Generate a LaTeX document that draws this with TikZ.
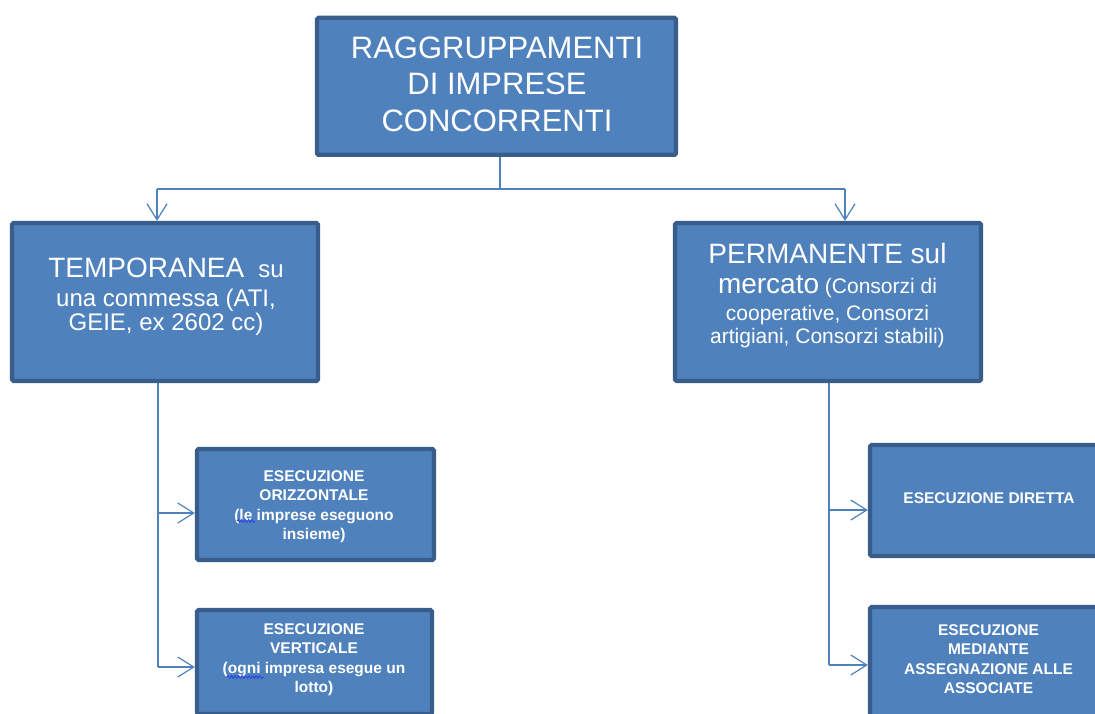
\documentclass[tikz,border=0pt]{standalone}
\usepackage{fontspec}
\setmainfont{Liberation Sans}
\usetikzlibrary{arrows.meta,decorations.pathmorphing}
\definecolor{boxfill}{HTML}{4F81BD}
\definecolor{boxline}{HTML}{385D8A}
\definecolor{connc}{HTML}{4F81BD}
\definecolor{spell}{HTML}{2E4BE0}
\begin{document}
\begin{tikzpicture}[x=1pt,y=-1pt,
  box/.style={draw=boxline, line width=4.2pt, fill=boxfill, rounded corners=1.5pt, inner sep=0pt},
  txt/.style={text=white, align=center, inner sep=0pt, anchor=north},
  small/.style={txt, font=\bfseries\fontsize{15.5}{19.5}\selectfont},
  conn/.style={draw=connc, line width=1.2pt},
  arr/.style={conn, -{Straight Barb[length=16pt,width=20pt]}},
  squig/.style={draw=spell, line width=1pt, decorate, decoration={snake, amplitude=1.4pt, segment length=3.5pt}}]
\useasboundingbox (0,0) rectangle (1095,713);
\clip (0,0) rectangle (1095,713);

% boxes
\node[box, minimum width=359pt, minimum height=137pt] (top) at (496.5,86.3) {};
\node[box, minimum width=306pt, minimum height=158pt] (tempo) at (165,302) {};
\node[box, minimum width=306pt, minimum height=158pt] (perm) at (828,302) {};
\node[box, minimum width=237pt, minimum height=111pt] (los1) at (315.5,504.5) {};
\node[box, minimum width=235pt, minimum height=104pt] (los2) at (314.5,662) {};
\node[box, minimum width=238pt, minimum height=111pt] (ros1) at (989,500.5) {};
\node[box, minimum width=238pt, minimum height=118pt] (ros2) at (989,666) {};

% texts
\node[txt, font=\fontsize{31}{36.3}\selectfont] (top-t) at (497,36.8)
  {RAGGRUPPAMENTI\\DI IMPRESE\\CONCORRENTI};
\node[txt, font=\fontsize{24}{23.5}\selectfont] (tempo-t) at (166,258)
  {{\fontsize{28}{29}\selectfont TEMPORANEA}\hspace{14pt}su\\[5.5pt]una commessa (ATI,\\GEIE, ex 2602 cc)};
\node[txt, font=\fontsize{21}{23}\selectfont] (perm-t) at (827.5,242.6)
  {{\fontsize{28}{29}\selectfont PERMANENTE sul}\\[7pt]{\fontsize{28}{29}\selectfont mercato} (Consorzi di\\[4pt]cooperative, Consorzi\\artigiani, Consorzi stabili)};
\node[small] (los1-t) at (314,470)
  {ESECUZIONE\\ORIZZONTALE\\(le imprese eseguono\\insieme)};
\node[small] (los2-t) at (314,623)
  {ESECUZIONE\\VERTICALE\\(ogni impresa esegue un\\lotto)};
\node[small] (ros1-t) at (989,492)
  {ESECUZIONE DIRETTA};
\node[small] (ros2-t) at (988.5,624)
  {ESECUZIONE\\MEDIANTE\\ASSEGNAZIONE ALLE\\ASSOCIATE};

% spell-check marks
\draw[squig] (237,521) -- (255,521);
\draw[squig] (227,677) -- (264,677);

% connectors
\coordinate (bus) at (500,189);
\coordinate (busL) at (157,189);
\coordinate (busR) at (845,189);
\draw[conn] (top.south -| bus) -- (bus);
\draw[conn] (busL) -- (busR);
\draw[arr] (busL) -- (tempo.north -| busL);
\draw[arr] (busR) -- (perm.north -| busR);

\coordinate (tL1) at (158,513);
\coordinate (tL2) at (158,667);
\draw[conn] (tempo.south -| tL2) -- (tL2);
\draw[arr] (tL1) -- (los1.west |- tL1);
\draw[arr] (tL2) -- (los2.west |- tL2);

\coordinate (tR1) at (829,510);
\coordinate (tR2) at (829,665);
\draw[conn] (perm.south -| tR2) -- (tR2);
\draw[arr] (tR1) -- (ros1.west |- tR1);
\draw[arr] (tR2) -- (ros2.west |- tR2);
\end{tikzpicture}
\end{document}
